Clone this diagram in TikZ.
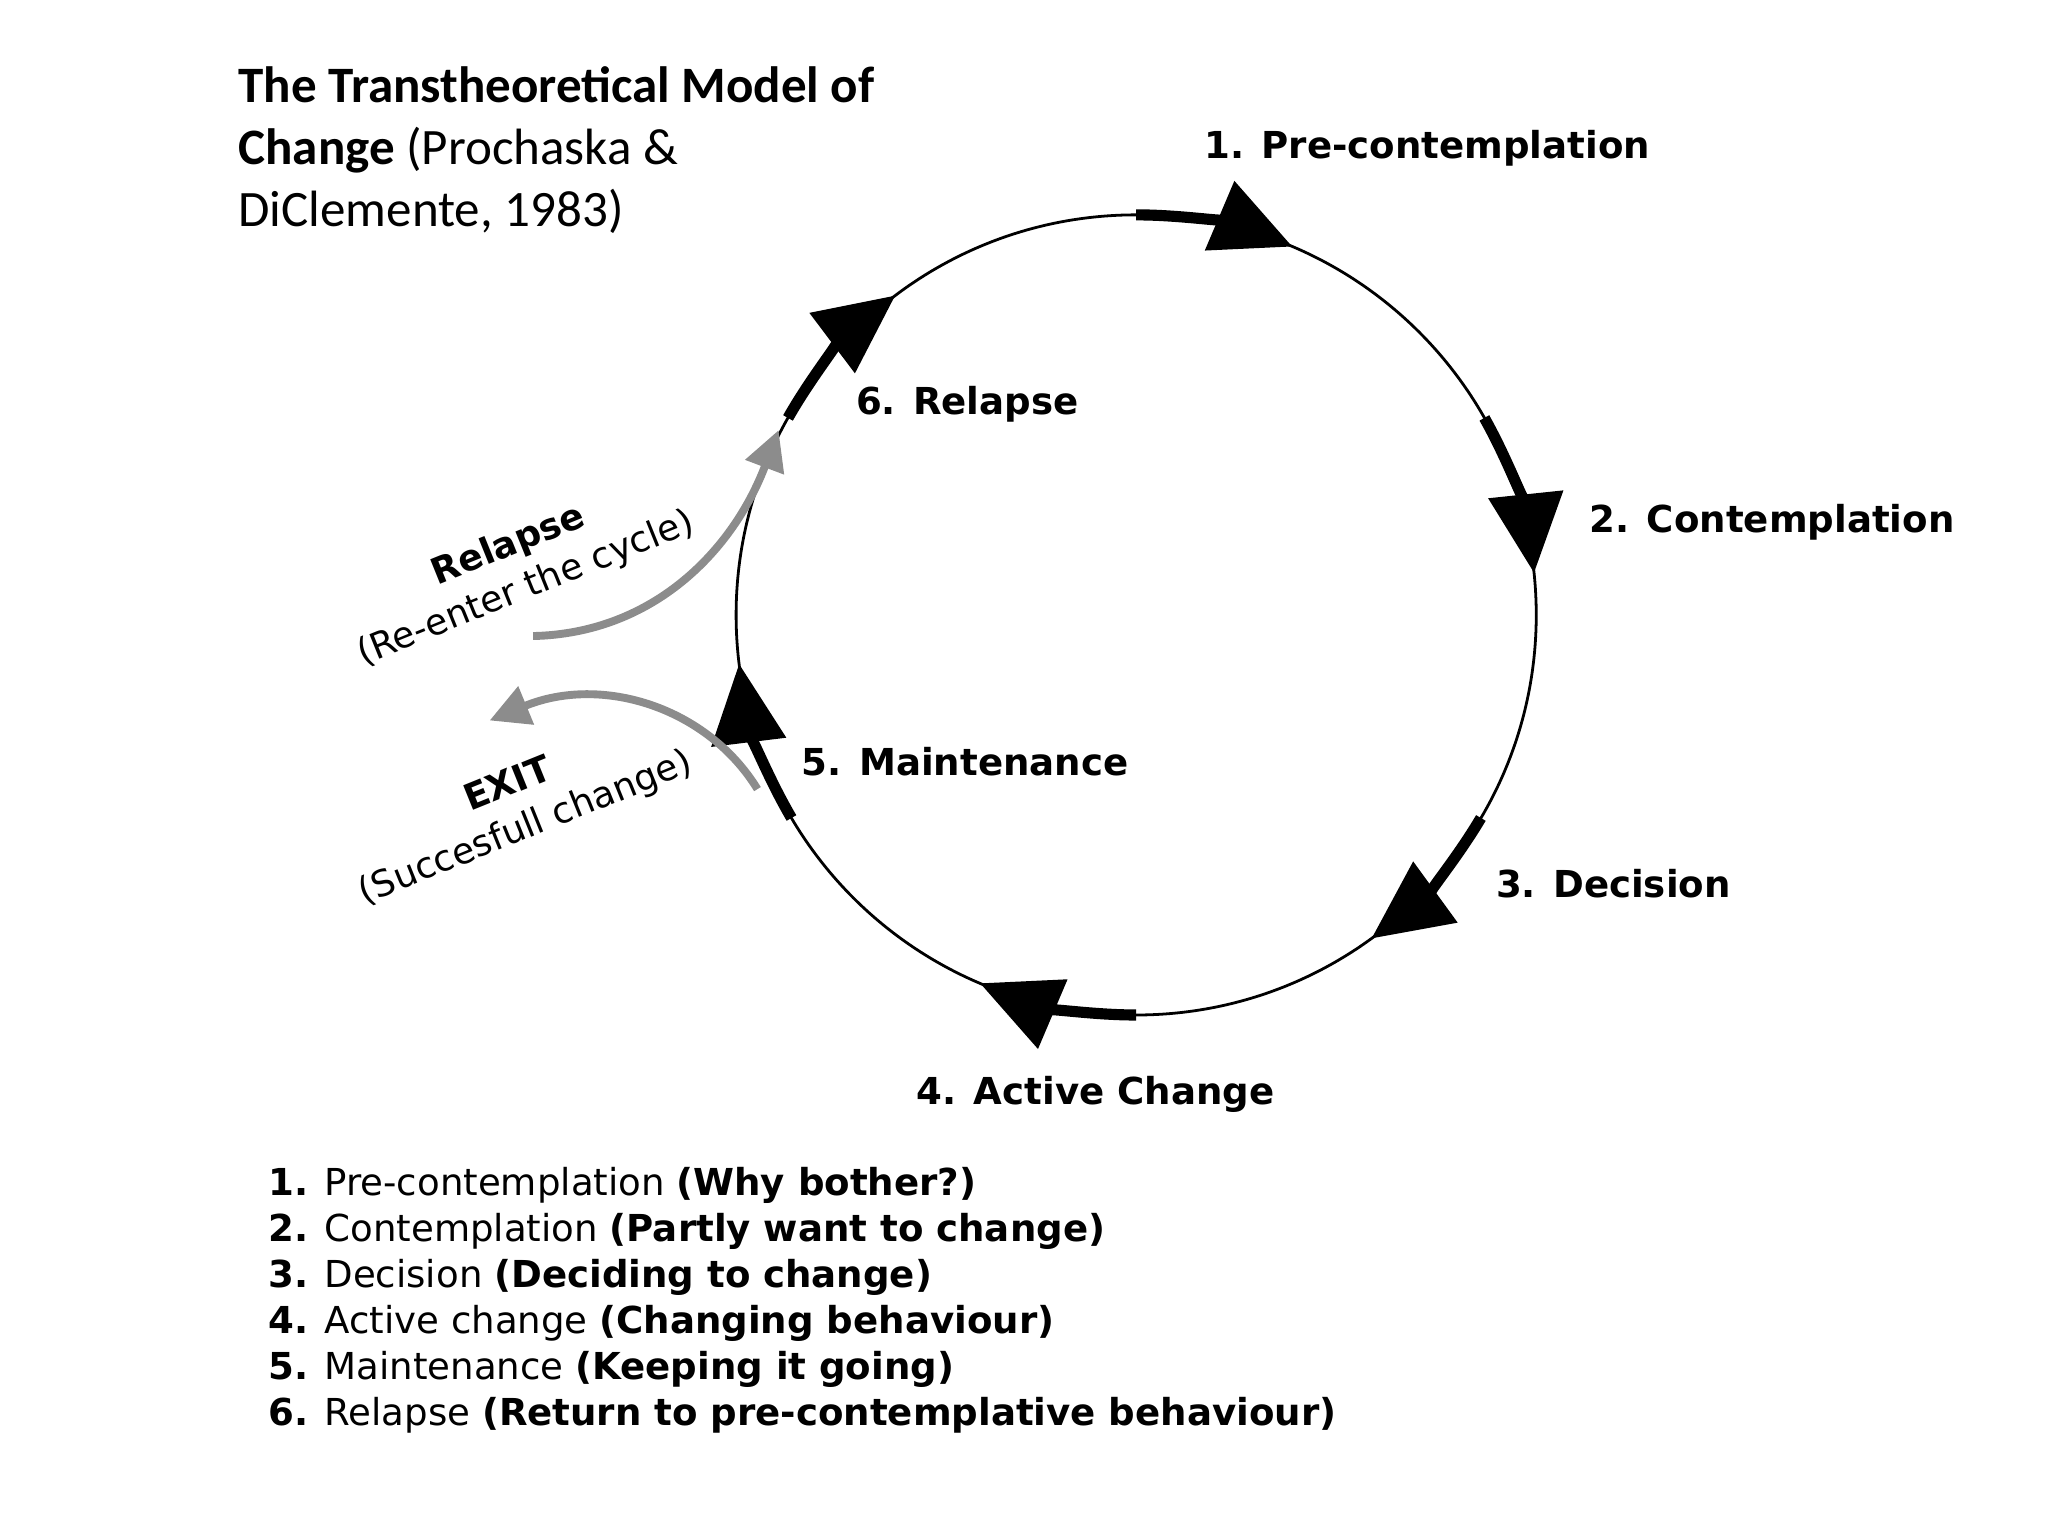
\documentclass[tikz,border=0pt]{standalone}
\usepackage{fontspec}
\setmainfont{DejaVu Sans}
\newfontfamily\titlefont{Carlito}
\usetikzlibrary{arrows.meta,calc}
\begin{document}
\begin{tikzpicture}[x=0.01cm,y=-0.01cm,
  ring/.style={line width=0.6pt,black},
  stage/.style={line width=2.4pt,black,-{Triangle[length=0.6cm,width=0.55cm]}},
  grayarr/.style={line width=1.7pt,color=black!45,-{Triangle[length=0.3cm,width=0.3cm]}},
  lab/.style={anchor=west,font=\fontsize{8}{10}\selectfont\bfseries,inner sep=0},
  side/.style={font=\fontsize{7.8}{10}\selectfont,inner sep=0,align=center}]
\useasboundingbox (0,0) rectangle (1552,1164);
\fill[white] (0,0) rectangle (1552,1164);
\coordinate (c) at (861,466);
\def\r{3.03cm}
\draw[ring] (c) circle[radius=\r];
% stage arrows
\foreach \a/\b in {90/67, 29.5/6, -30.5/-54, -90/-113, -149.5/-173, 150.5/127}{
  \draw[stage] ($(c)+(\a:\r)$) arc[start angle=\a,end angle=\b,radius=\r];
}
% labels
\node[lab] (s1) at (912,112) {1. Pre-contemplation};
\node[lab] (s2) at (1204,396) {2. Contemplation};
\node[lab] (s3) at (1133,670) {3. Decision};
\node[lab] (s4) at (694,829) {4. Active Change};
\node[lab] (s5) at (607,577) {5. Maintenance};
\node[lab] (s6) at (648,306) {6. Relapse};
% gray arrows
\coordinate (r0) at (404,482);
\coordinate (r1) at (590,326);
\draw[grayarr] (r0) .. controls (496,480) and (556,416) .. (r1);
\coordinate (e0) at (574,598);
\coordinate (e1) at (371,546);
\draw[grayarr] (e0) .. controls (536,536) and (456,511) .. (e1);
\node[side,rotate=22] (rl) at (392,430) {\textbf{Relapse}\\(Re-enter the cycle)};
\node[side,rotate=22] (ex) at (392,612) {\textbf{EXIT}\\(Succesfull change)};
% title
\node[anchor=north west,align=left,inner sep=0,font=\titlefont\fontsize{11}{13.3}\selectfont] (t) at (180,50)
 {\textbf{The Transtheoretical Model of}\\\textbf{Change} (Prochaska \&\\DiClemente, 1983)};
% list
\node[anchor=north west,align=left,inner sep=0,font=\fontsize{8}{9.9}\selectfont] (list) at (203,884)
 {\textbf{1.} Pre-contemplation \textbf{(Why bother?)}\\
  \textbf{2.} Contemplation \textbf{(Partly want to change)}\\
  \textbf{3.} Decision \textbf{(Deciding to change)}\\
  \textbf{4.} Active change \textbf{(Changing behaviour)}\\
  \textbf{5.} Maintenance \textbf{(Keeping it going)}\\
  \textbf{6.} Relapse \textbf{(Return to pre-contemplative behaviour)}};
\end{tikzpicture}
\end{document}
